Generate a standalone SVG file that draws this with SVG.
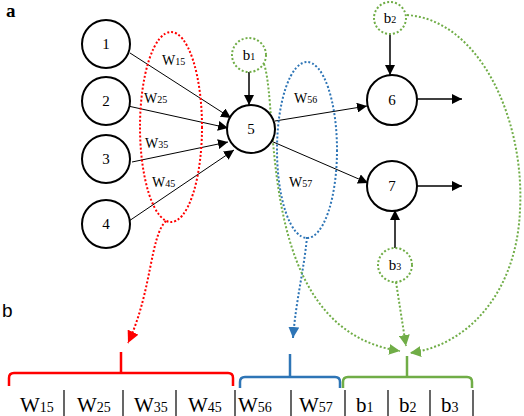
<svg xmlns="http://www.w3.org/2000/svg" width="524" height="416" viewBox="0 0 524 416">
<style>
.n{fill:#fff;stroke:#000;stroke-width:2}
.bias{fill:#fff;stroke:#70ad47;stroke-width:2;stroke-dasharray:2 2}
.t{font-family:"Liberation Serif",serif;font-size:15px;fill:#000;text-anchor:middle}
.t tspan{font-size:10px}
.w{font-family:"Liberation Serif",serif;font-size:14px;fill:#000}
.w tspan{font-size:10px}
.tb{font-family:"Liberation Serif",serif;font-size:21px;fill:#000}
.tb tspan{font-size:14px}
.e{stroke:#000;stroke-width:1;fill:none}
.e2{stroke:#000;stroke-width:1.5;fill:none}
.dr{fill:none;stroke:#ff0000;stroke-width:2;stroke-dasharray:2 2}
.db{fill:none;stroke:#2e75b6;stroke-width:2;stroke-dasharray:2 2}
.dg{fill:none;stroke:#70ad47;stroke-width:2;stroke-dasharray:2 2}
.sep{stroke:#000;stroke-width:1.2}
.lbl{font-family:"Liberation Serif",serif;font-size:19px;fill:#000}
</style>
<defs>
<marker id="ak" viewBox="0 0 10 10" refX="10" refY="5" markerWidth="10" markerHeight="10" markerUnits="userSpaceOnUse" orient="auto"><path d="M0,0L10,5L0,10z" fill="#000"/></marker>
<marker id="ar" viewBox="0 0 10 10" refX="10" refY="5" markerWidth="12" markerHeight="12" markerUnits="userSpaceOnUse" orient="auto"><path d="M0,0L10,5L0,10z" fill="#ff0000"/></marker>
<marker id="ab" viewBox="0 0 10 10" refX="10" refY="5" markerWidth="11" markerHeight="11" markerUnits="userSpaceOnUse" orient="auto"><path d="M0,0L10,5L0,10z" fill="#2e75b6"/></marker>
<marker id="ag" viewBox="0 0 10 10" refX="10" refY="5" markerWidth="11" markerHeight="11" markerUnits="userSpaceOnUse" orient="auto"><path d="M0,0L10,5L0,10z" fill="#70ad47"/></marker>
</defs>
<rect width="524" height="416" fill="#fff"/>
<text class="lbl" x="6" y="17" font-weight="bold">a</text>
<text x="2" y="317" font-family="'Liberation Sans',sans-serif" font-size="19">b</text>

<g id="connectors">
<line class="e" x1="130" y1="53" x2="231" y2="118" marker-end="url(#ak)"/>
<line class="e" x1="128" y1="106" x2="228" y2="128" marker-end="url(#ak)"/>
<line class="e" x1="132" y1="162" x2="228" y2="142" marker-end="url(#ak)"/>
<line class="e" x1="129" y1="221" x2="234" y2="150" marker-end="url(#ak)"/>
<line class="e2" x1="249" y1="72" x2="249" y2="105" marker-end="url(#ak)"/>
<line class="e" x1="275" y1="121" x2="367" y2="106" marker-end="url(#ak)"/>
<line class="e" x1="271" y1="141" x2="368" y2="183" marker-end="url(#ak)"/>
<line class="e2" x1="390" y1="35" x2="390" y2="75" marker-end="url(#ak)"/>
<line class="e2" x1="395" y1="248" x2="395" y2="210" marker-end="url(#ak)"/>
<line class="e2" x1="417" y1="99" x2="462" y2="99" marker-end="url(#ak)"/>
<line class="e2" x1="417" y1="186" x2="462" y2="186" marker-end="url(#ak)"/>
<path class="dr" d="M166,221 C150,236 152,292 128,343" marker-end="url(#ar)"/>
<path class="db" d="M307,237 C304,270 296,300 293,338" marker-end="url(#ab)"/>
<path class="dg" d="M264,64 C280,110 255,330 400,351" marker-end="url(#ag)"/>
<path class="dg" d="M407,15 C480,20 525,120 520,210 C517,290 470,345 410,353" marker-end="url(#ag)"/>
<path class="dg" d="M396,282 L406,346" marker-end="url(#ag)"/>
</g>

<ellipse class="dr" cx="171" cy="127" rx="31" ry="95"/>
<ellipse class="db" cx="307" cy="150" rx="30" ry="88"/>

<g id="n1"><circle class="n" cx="106" cy="44" r="24"/><text class="t" x="106" y="49">1</text></g>
<g id="n2"><circle class="n" cx="106" cy="101" r="24"/><text class="t" x="106" y="106">2</text></g>
<g id="n3"><circle class="n" cx="106" cy="159" r="24"/><text class="t" x="106" y="164">3</text></g>
<g id="n4"><circle class="n" cx="106" cy="224" r="24"/><text class="t" x="106" y="229">4</text></g>
<g id="n5"><circle class="n" cx="251" cy="129" r="24"/><text class="t" x="251" y="134">5</text></g>
<g id="n6"><circle class="n" cx="392" cy="100" r="25"/><text class="t" x="392" y="105">6</text></g>
<g id="n7"><circle class="n" cx="392" cy="186" r="25"/><text class="t" x="392" y="191">7</text></g>
<g id="b1"><circle class="bias" cx="249" cy="55" r="17"/><text class="t" x="249" y="60">b<tspan>1</tspan></text></g>
<g id="b2"><circle class="bias" cx="390" cy="18" r="16"/><text class="t" x="390" y="23">b<tspan>2</tspan></text></g>
<g id="b3"><circle class="bias" cx="395" cy="265" r="17"/><text class="t" x="395" y="270">b<tspan>3</tspan></text></g>

<g id="weight-labels">
<text class="w" x="162" y="65">W<tspan>15</tspan></text>
<text class="w" x="144" y="103">W<tspan>25</tspan></text>
<text class="w" x="145" y="148">W<tspan>35</tspan></text>
<text class="w" x="152" y="187">W<tspan>45</tspan></text>
<text class="w" x="294" y="103">W<tspan>56</tspan></text>
<text class="w" x="289" y="187">W<tspan>57</tspan></text>
</g>

<g id="braces">
<path d="M9,386 L9,378 Q9,373 14,373 L228,373 Q233,373 233,378 L233,386" fill="none" stroke="#ff0000" stroke-width="2.5"/>
<line x1="121" y1="373" x2="121" y2="352" stroke="#ff0000" stroke-width="2.5"/>
<path d="M240,388 L240,382 Q240,377 245,377 L335,377 Q340,377 340,382 L340,388" fill="none" stroke="#2e75b6" stroke-width="2.5"/>
<line x1="290" y1="377" x2="290" y2="354" stroke="#2e75b6" stroke-width="2.5"/>
<path d="M343,388 L343,382 Q343,377 348,377 L467,377 Q472,377 472,382 L472,388" fill="none" stroke="#70ad47" stroke-width="2.5"/>
<line x1="407" y1="377" x2="407" y2="356" stroke="#70ad47" stroke-width="2.5"/>
</g>

<g id="table">
<line class="sep" x1="64" y1="390" x2="64" y2="416"/>
<line class="sep" x1="123" y1="390" x2="123" y2="416"/>
<line class="sep" x1="176" y1="390" x2="176" y2="416"/>
<line class="sep" x1="235" y1="390" x2="235" y2="416"/>
<line class="sep" x1="291" y1="390" x2="291" y2="416"/>
<line class="sep" x1="345" y1="390" x2="345" y2="416"/>
<line class="sep" x1="388" y1="390" x2="388" y2="416"/>
<line class="sep" x1="430" y1="390" x2="430" y2="416"/>
<line class="sep" x1="473" y1="390" x2="473" y2="416"/>
<text class="tb" x="20" y="412">W<tspan>15</tspan></text>
<text class="tb" x="77" y="412">W<tspan>25</tspan></text>
<text class="tb" x="134" y="412">W<tspan>35</tspan></text>
<text class="tb" x="188" y="412">W<tspan>45</tspan></text>
<text class="tb" x="238" y="412">W<tspan>56</tspan></text>
<text class="tb" x="299" y="412">W<tspan>57</tspan></text>
<text class="tb" x="356" y="412">b<tspan>1</tspan></text>
<text class="tb" x="399" y="412">b<tspan>2</tspan></text>
<text class="tb" x="441" y="412">b<tspan>3</tspan></text>
</g>
</svg>
